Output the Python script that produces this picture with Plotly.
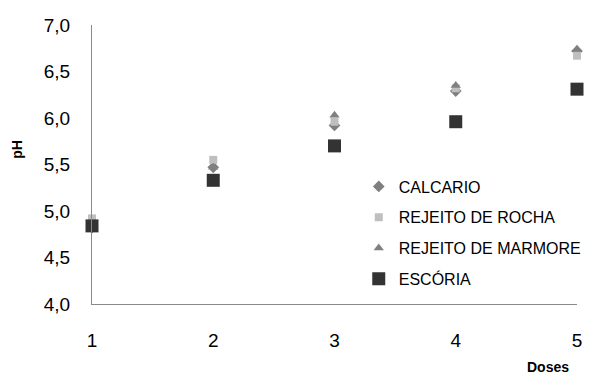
import plotly.graph_objects as go

doses = [1, 2, 3, 4, 5]
calcario = [4.82, 5.47, 5.92, 6.29, 6.72]
rejeito_rocha = [4.92, 5.55, 5.96, 6.32, 6.67]
rejeito_marmore = [4.80, 5.47, 6.03, 6.35, 6.74]
escoria = [4.84, 5.33, 5.70, 5.96, 6.31]

y_ticks = [4.0, 4.5, 5.0, 5.5, 6.0, 6.5, 7.0]

FONT = "Liberation Sans, Arial, sans-serif"

series = [
    ("CALCARIO", calcario, "diamond", 9, "#7f7f7f"),
    ("REJEITO DE ROCHA", rejeito_rocha, "square", 8, "#bfbfbf"),
    ("REJEITO DE MARMORE", rejeito_marmore, "triangle-up", 9, "#808080"),
    ("ESCÓRIA", escoria, "square", 13, "#333333"),
]

fig = go.Figure()
for i, (name, vals, sym, size, col) in enumerate(series):
    fig.add_trace(go.Scatter(
        x=doses, y=vals, mode="markers", name=name,
        legendgroup=f"g{i}",
        marker=dict(symbol=sym, size=size, color=col, line=dict(width=0)),
        cliponaxis=False,
    ))

# page body adds an 8px margin, so the figure is sized to fit inside it
fig.update_layout(
    width=584, height=368,
    margin=dict(l=84, r=15, t=17, b=72, autoexpand=False),
    plot_bgcolor="white", paper_bgcolor="white",
    separators=",.",
    font=dict(family=FONT, color="#000000"),
    showlegend=True,
    legend=dict(
        x=0.55, y=0.482, xanchor="left", yanchor="top",
        font=dict(size=16, family=FONT), tracegroupgap=7,
        itemsizing="trace", bgcolor="rgba(0,0,0,0)",
    ),
    xaxis=dict(
        range=[1, 5], tickvals=doses, showgrid=False, zeroline=False,
        showline=True, linecolor="#898989", linewidth=1,
        tickfont=dict(size=19, family=FONT), ticks="", ticklabelstandoff=19,
    ),
    yaxis=dict(
        range=[4, 7], tickvals=y_ticks, tickformat=".1f", showgrid=False,
        zeroline=False, showline=True, linecolor="#898989", linewidth=1,
        tickfont=dict(size=19, family=FONT), ticks="", ticklabelstandoff=17,
    ),
    annotations=[
        dict(text="<b>Doses</b>", x=0.94, y=-0.225, xref="paper", yref="paper",
             xanchor="center", yanchor="middle",
             showarrow=False, font=dict(size=14, family=FONT)),
        dict(text="<b>pH</b>", x=-0.155, y=0.556, xref="paper", yref="paper",
             xanchor="center", yanchor="middle",
             showarrow=False, textangle=-90, font=dict(size=14, family=FONT)),
    ],
)

fig.write_html("out.html")
